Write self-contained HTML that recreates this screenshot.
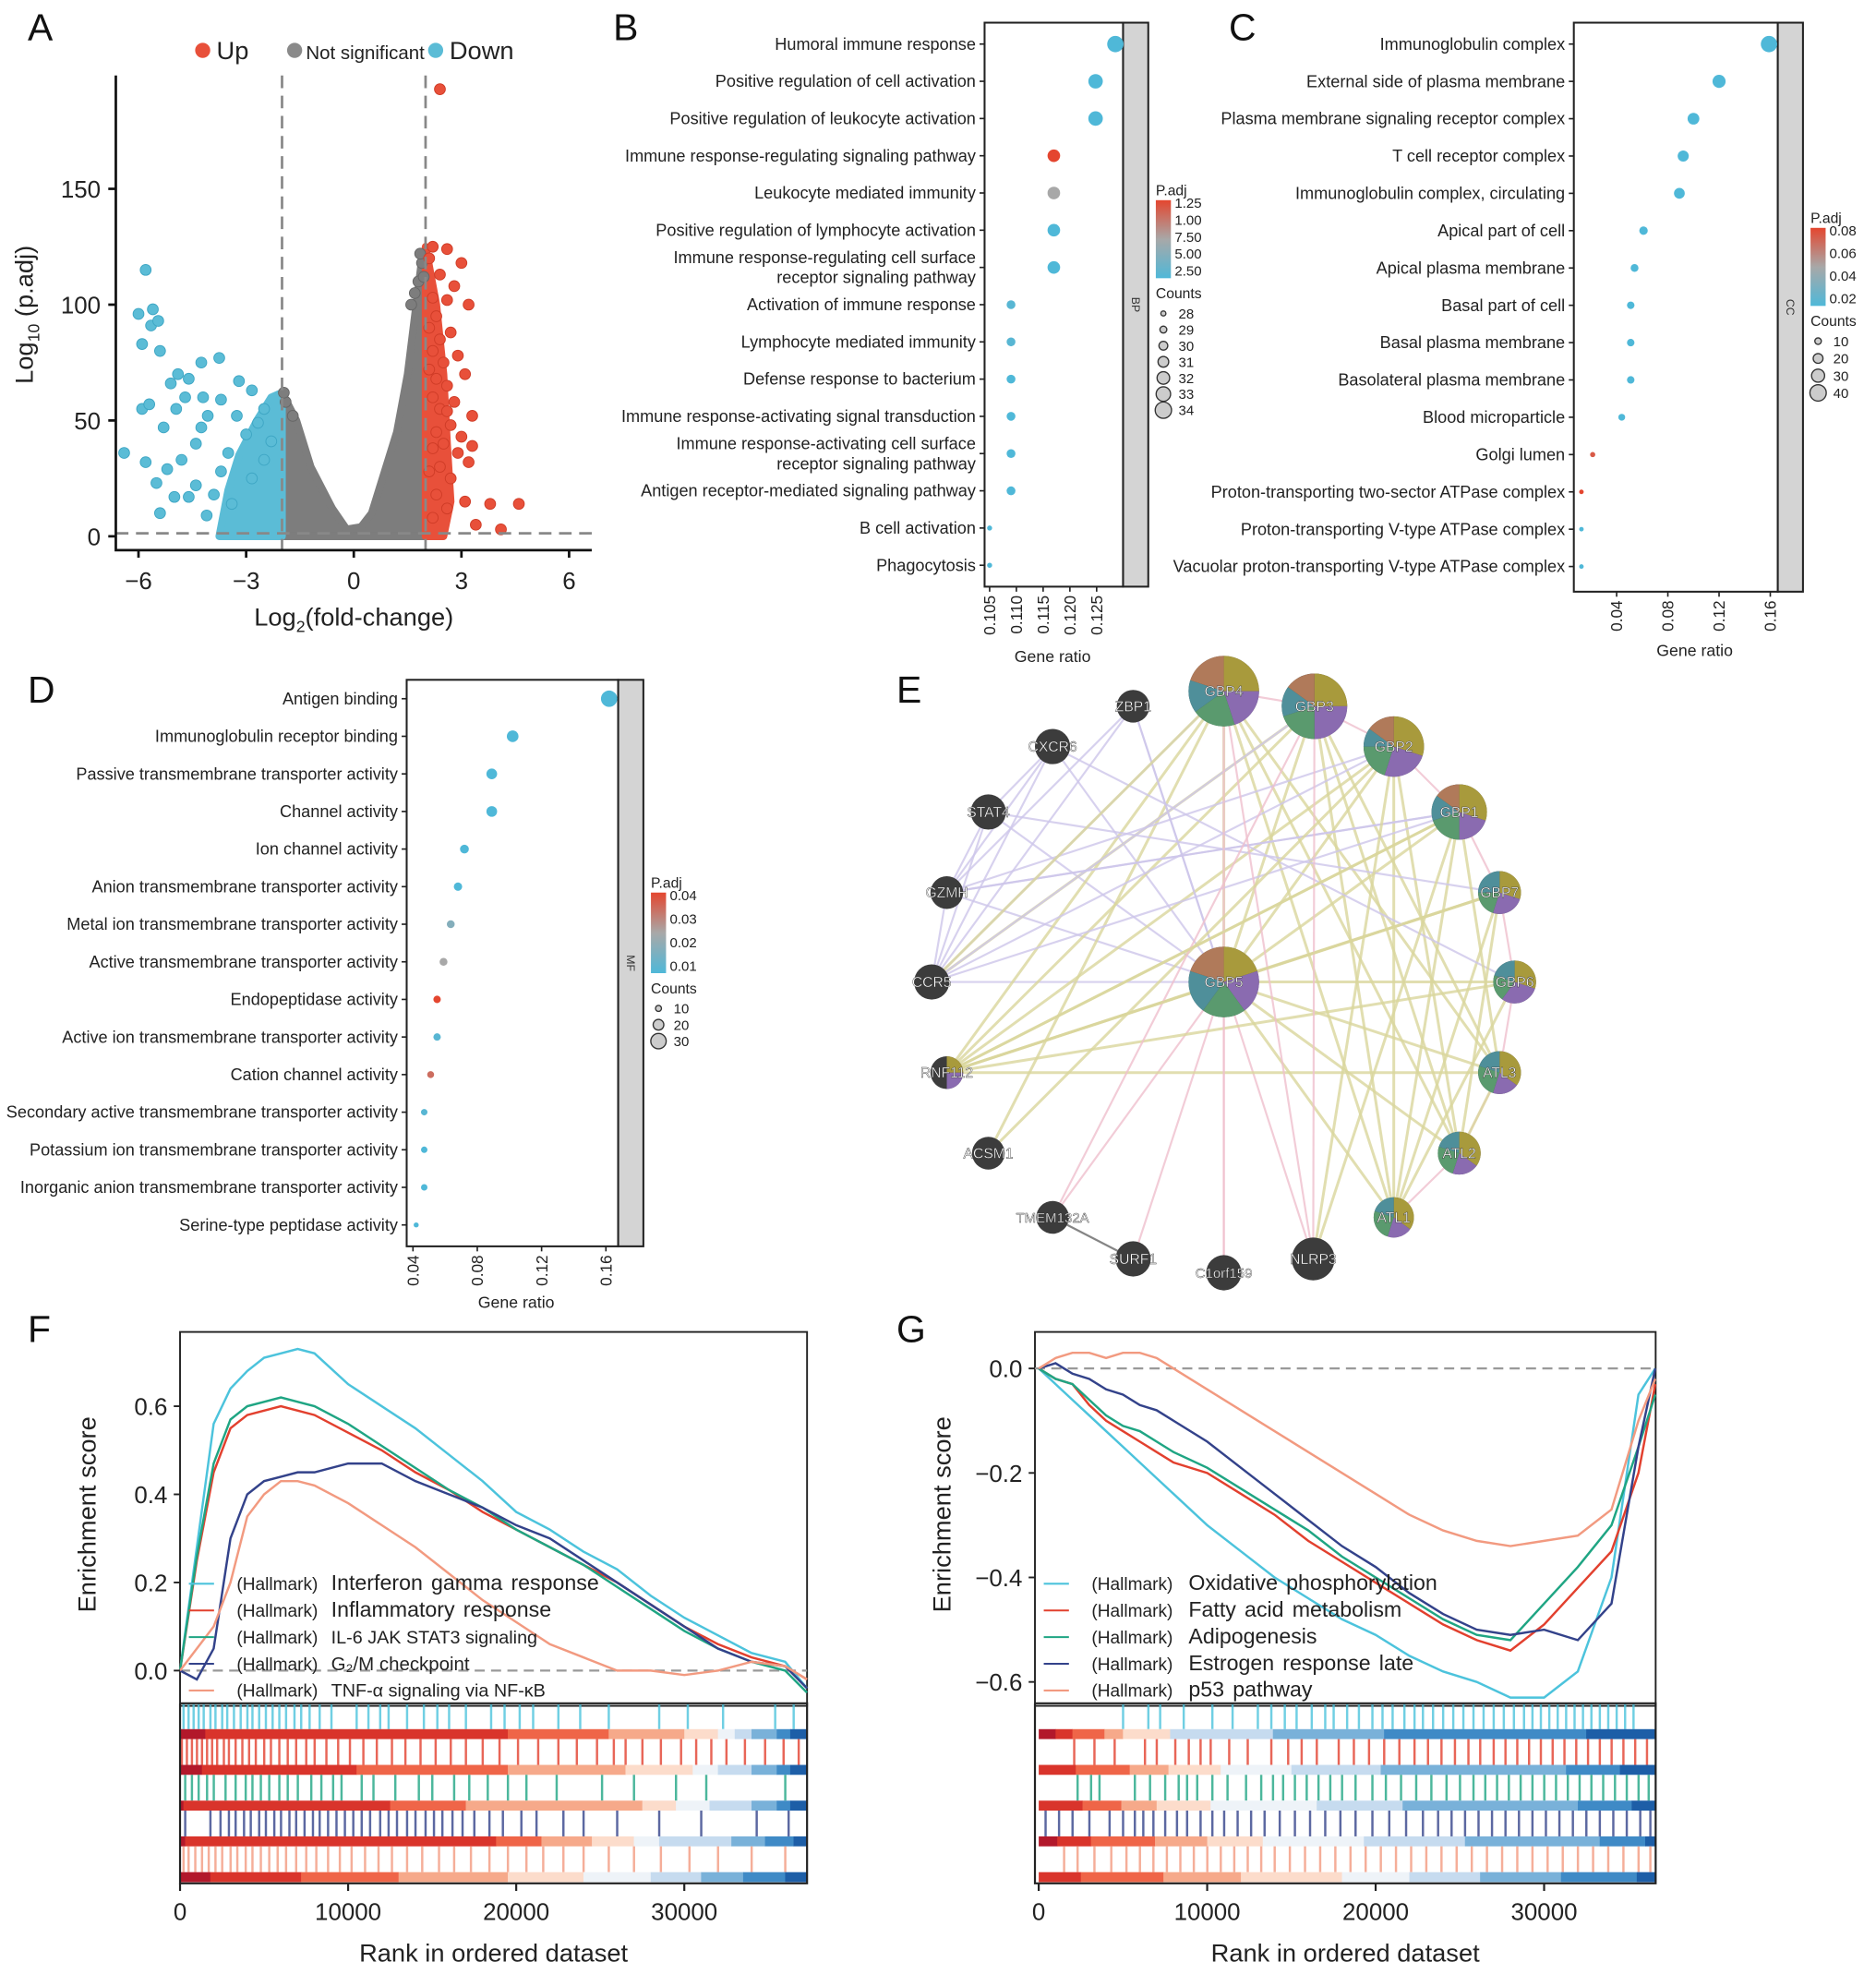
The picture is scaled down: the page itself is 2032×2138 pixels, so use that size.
<!DOCTYPE html>
<html><head><meta charset="utf-8"><style>
html,body{margin:0;padding:0;background:#fff}
svg{display:block;font-family:"Liberation Sans",Arial,sans-serif}
</style></head><body>
<svg id="fig" width="2032" height="2138" viewBox="0 0 1490 1568" preserveAspectRatio="none" xmlns="http://www.w3.org/2000/svg">
<g id="pA"></g>
<g id="pB"></g>
<g id="pC"></g>
<g id="pD"></g>
<g id="pE"></g>
<g id="pF"></g>
<g id="pG"></g>
</svg>
<script>
// ---------- DATA ----------
const volRedX=[2.4,2.2,2.6,2.1,3.0,2.4,2.8,2.2,2.6,3.2,2.3,2.1,2.7,2.4,2.2,2.9,2.5,2.1,3.1,2.3,2.6,2.2,2.8,2.4,3.3,2.6,2.7,2.3,3.0,2.5,2.2,2.9,3.3,3.2,2.4,2.1,2.7,4.6,3.1,2.3,2.6,3.8,2.2,3.4,4.1];
const volRedY=[193,125,124,120,118,113,108,103,102,100,95,90,88,85,80,78,75,72,70,68,65,60,58,55,52,54,48,45,43,40,38,36,39,32,30,28,25,14,15,18,12,14,8,5,3];
const volBlueX=[-5.8,-6.0,-5.6,-5.65,-5.45,-5.9,-5.4,-4.9,-4.25,-3.75,-4.6,-6.4,-5.9,-5.3,-5.8,-5.5,-5.4,-5.0,-4.8,-4.4,-3.9,-4.25,-3.7,-3.26,-2.84,-3.2,-2.5,-4.95,-4.7,-4.07,-3.5,-3.0,-2.67,-5.1,-4.2,-4.6,-4.1,-3.4,-3.7,-2.84,-2.5,-2.3,-5.2,-5.7,-4.4];
const volBlueY=[115,96,98,91,93,83,80,70,75,77,68,36,55,47,32,23,10,17,33,22,18,47,59,52,63,67,55,55,60,52,36,44,49,66,60,17,9,14,28,25,33,41,29,57,40];
const volGreyX=[1.6,1.8,1.9,1.7,1.85,-1.9,-1.7,-1.95,1.95];
const volGreyY=[100,110,118,105,122,58,52,62,112];
const greyEnvX=[-2,-2,-1.6,-1.2,-0.6,-0.2,0.2,0.5,0.8,1.2,1.5,1.7,1.9,2,2];
const greyEnvY=[0,62,50,30,12,3,4,10,25,45,70,95,120,122,0];
const blueEnvX=[-3.75,-3.5,-3.2,-2.7,-2.3,-2,-2];
const blueEnvY=[0,20,35,50,60,62,0];
const redEnvX=[2,2,2.3,2.5,2.6,2.7,2.5];
const redEnvY=[0,125,100,70,40,15,0];
const volXTicks=[-6,-3,0,3,6];
const volYTicks=[0,50,100,150];

const bpTerms=["Humoral immune response","Positive regulation of cell activation","Positive regulation of leukocyte activation","Immune response-regulating signaling pathway","Leukocyte mediated immunity","Positive regulation of lymphocyte activation","Immune response-regulating cell surface|receptor signaling pathway","Activation of immune response","Lymphocyte mediated immunity","Defense response to bacterium","Immune response-activating signal transduction","Immune response-activating cell surface|receptor signaling pathway","Antigen receptor-mediated signaling pathway","B cell activation","Phagocytosis"];
const bpRatio=[0.1285,0.1248,0.1248,0.117,0.117,0.117,0.117,0.109,0.109,0.109,0.109,0.109,0.109,0.105,0.105];
const bpPadj=[0,0,0,1,0.5,0,0,0.05,0.05,0,0,0,0,0,0];
const bpCount=[34,33,33,32,32,32,32,30,30,30,30,30,30,28,28];
const bpTicks=[0.105,0.110,0.115,0.120,0.125];
const bpTickLab=["0.105","0.110","0.115","0.120","0.125"];

const ccTerms=["Immunoglobulin complex","External side of plasma membrane","Plasma membrane signaling receptor complex","T cell receptor complex","Immunoglobulin complex, circulating","Apical part of cell","Apical plasma membrane","Basal part of cell","Basal plasma membrane","Basolateral plasma membrane","Blood microparticle","Golgi lumen","Proton-transporting two-sector ATPase complex","Proton-transporting V-type ATPase complex","Vacuolar proton-transporting V-type ATPase complex"];
const ccRatio=[0.159,0.12,0.1,0.092,0.089,0.061,0.054,0.051,0.051,0.051,0.044,0.0213,0.0125,0.0125,0.0125];
const ccPadj=[0,0,0,0,0,0,0,0,0,0,0,0.9,1,0,0];
const ccCount=[40,30,26,24,23,16,14,13,13,13,11,6,4,4,4];
const ccTicks=[0.04,0.08,0.12,0.16];

const mfTerms=["Antigen binding","Immunoglobulin receptor binding","Passive transmembrane transporter activity","Channel activity","Ion channel activity","Anion transmembrane transporter activity","Metal ion transmembrane transporter activity","Active transmembrane transporter activity","Endopeptidase activity","Active ion transmembrane transporter activity","Cation channel activity","Secondary active transmembrane transporter activity","Potassium ion transmembrane transporter activity","Inorganic anion transmembrane transporter activity","Serine-type peptidase activity"];
const mfRatio=[0.162,0.102,0.089,0.089,0.072,0.068,0.0635,0.059,0.055,0.055,0.051,0.047,0.047,0.047,0.042];
const mfPadj=[0,0,0,0,0,0,0.3,0.5,1,0.05,0.8,0.05,0,0,0];
const mfCount=[32,22,20,20,16,15,14,14,13,13,12,11,11,11,8];
const mfTicks=[0.04,0.08,0.12,0.16];

const netNames=["GBP4","GBP3","GBP2","GBP1","GBP7","GBP6","ATL3","ATL2","ATL1","NLRP3","C1orf159","SURF1","TMEM132A","ACSM1","RNF112","CCR5","GZMH","STAT4","CXCR6","ZBP1","GBP5"];
const netX=[972,1044,1107,1159,1191,1203,1191,1159,1107,1043,972,900,836,785,752,740,752,785,836,900,972];
const netY=[549,561,593,645,709,780,852,916,967,1000,1011,1000,967,916,852,780,709,645,593,561,780];
const netR=[28,26,24,22,17,17,17,17,16,17,14,14,13,13,13,14,13,14,14,13,28];
const netPie=[[.25,.2,.2,.15,.2],[.25,.25,.2,.15,.15],[.3,.25,.2,.1,.15],[.3,.2,.2,.15,.15],[.3,.25,.2,.25,0],[.3,.3,.2,.2,0],[.35,.2,.25,.2,0],[.35,.2,.25,.2,0],[.35,.2,.25,.2,0],[0,0,0,0,0],[0,0,0,0,0],[0,0,0,0,0],[0,0,0,0,0],[0,0,0,0,0],[.25,.25,0,0,0],[0,0,0,0,0],[0,0,0,0,0],[0,0,0,0,0],[0,0,0,0,0],[0,0,0,0,0],[.2,.2,.2,.2,.2]];
const edgeFrom=[20,20,20,20,20,20,20,20,20,20,20,20,20,20,20,20,20,20,20,0,0,0,0,0,1,1,1,1,1,2,2,2,2,3,3,3,3,4,4,5,6,0,1,2,3,4,5,6,7,18,18,17,17,16,16,19,19,18,17,16,15,15,19,18,0,1,2,3,12,0,3,4,2,1,0,5,6,14,14];
const edgeTo=[0,1,2,3,4,5,6,7,8,14,9,10,11,12,18,17,19,15,16,8,7,6,14,13,8,7,6,14,15,7,8,14,15,14,8,16,15,14,8,14,14,1,2,3,4,5,6,7,8,15,16,15,16,15,3,15,16,17,4,2,0,1,20,5,9,9,9,9,11,10,6,7,13,12,15,8,7,3,4];
const edgeType=[0,0,0,0,0,0,0,0,0,0,1,1,1,1,2,2,2,2,2,0,0,0,0,0,0,0,0,0,0,0,0,0,2,0,0,2,2,0,0,0,0,1,1,1,1,1,1,1,1,2,2,2,2,2,2,2,2,2,2,2,2,2,2,2,1,1,0,0,3,1,0,0,0,1,0,0,0,0,0];

const rankK=[0,1,2,3,4,5,6,7,8,10,12,14,16,18,20,22,24,26,28,30,32,34,36,37.3];
const gRankK=[0,1,2,3,4,5,6,7,8,10,12,14,16,18,20,22,24,26,28,30,32,34,35.6,36.6];
const fCyan=[0,0.28,0.56,0.64,0.68,0.71,0.72,0.73,0.72,0.65,0.6,0.55,0.49,0.43,0.36,0.32,0.27,0.23,0.17,0.12,0.08,0.04,0.02,-0.04];
const fRed=[0,0.25,0.45,0.55,0.58,0.59,0.6,0.59,0.58,0.54,0.5,0.45,0.41,0.36,0.32,0.28,0.24,0.2,0.15,0.1,0.06,0.03,0.01,-0.02];
const fGreen=[0,0.26,0.47,0.57,0.6,0.61,0.62,0.61,0.6,0.56,0.51,0.46,0.41,0.37,0.32,0.28,0.24,0.19,0.14,0.09,0.05,0.02,0.0,-0.05];
const fNavy=[0,-0.02,0.05,0.3,0.4,0.43,0.44,0.45,0.45,0.47,0.47,0.43,0.4,0.37,0.33,0.3,0.25,0.2,0.15,0.1,0.05,0.02,0.01,-0.04];
const fSalmon=[0,0.05,0.1,0.2,0.35,0.4,0.43,0.43,0.42,0.38,0.33,0.28,0.22,0.16,0.11,0.06,0.03,0.0,0.0,-0.01,0.0,0.02,0.01,-0.02];
const gCyan=[0,-0.03,-0.06,-0.09,-0.12,-0.15,-0.18,-0.21,-0.24,-0.3,-0.35,-0.4,-0.44,-0.48,-0.51,-0.55,-0.58,-0.6,-0.63,-0.63,-0.58,-0.4,-0.05,0.0];
const gRed=[0,-0.02,-0.03,-0.07,-0.1,-0.12,-0.14,-0.16,-0.18,-0.2,-0.24,-0.28,-0.33,-0.37,-0.41,-0.45,-0.49,-0.52,-0.54,-0.49,-0.42,-0.35,-0.2,-0.03];
const gGreen=[0,-0.02,-0.03,-0.06,-0.09,-0.11,-0.12,-0.14,-0.16,-0.19,-0.23,-0.27,-0.31,-0.36,-0.4,-0.44,-0.48,-0.51,-0.52,-0.45,-0.38,-0.3,-0.15,-0.05];
const gNavy=[0,0.01,-0.01,-0.02,-0.04,-0.05,-0.07,-0.08,-0.1,-0.14,-0.19,-0.24,-0.29,-0.34,-0.38,-0.43,-0.47,-0.5,-0.51,-0.5,-0.52,-0.45,-0.15,0.0];
const gSalmon=[0,0.02,0.03,0.03,0.02,0.03,0.03,0.02,0.0,-0.04,-0.08,-0.12,-0.16,-0.2,-0.24,-0.28,-0.31,-0.33,-0.34,-0.33,-0.32,-0.27,-0.1,-0.02];
const fLabels=["Interferon  gamma  response","Inflammatory  response","IL-6 JAK STAT3 signaling","G\u2082/M checkpoint","TNF-\u03b1 signaling via NF-\u03baB"];
const gLabels=["Oxidative phosphorylation","Fatty acid metabolism","Adipogenesis","Estrogen  response  late","p53 pathway"];
const fTick1=[0.2,0.5,0.8,1.1,1.4,1.8,2.1,2.5,2.8,3.2,3.6,4.0,4.3,4.7,5.1,5.5,5.9,6.3,6.8,7.2,7.7,8.3,9.0,10.5,11.2,11.9,12.4,13.5,14.5,15.3,16.0,17.0,18.5,19.3,20.2,21.0,22.5,23.8,25.5,28.5,30.2,32.3,35.4,36.5];
const fTick2=[0.1,0.4,0.7,1.0,1.3,1.6,1.9,2.2,2.6,2.9,3.3,3.7,4.1,4.5,5.0,5.4,5.9,6.4,6.9,7.5,8.0,8.7,9.4,10.1,10.9,11.7,12.6,13.4,14.3,15.2,16.1,17.0,18.0,19.0,20.1,21.3,22.5,23.6,24.8,25.8,26.5,27.5,28.6,29.8,30.7,31.6,32.5,33.6,34.8,35.9,36.8];
const fTick3=[0.3,0.7,1.1,1.6,2.0,2.7,3.3,3.9,4.3,4.8,5.3,5.9,6.4,7.0,7.8,8.4,9.1,9.6,10.8,11.5,12.8,14.2,15.0,16.3,17.2,18.3,19.5,20.6,22.4,25.1,27.0,29.5,31.3,36.0];
const fTick4=[0.3,1.8,2.4,2.9,3.3,3.8,4.2,4.7,5.1,5.6,6.0,6.5,6.9,7.4,7.9,8.3,8.8,9.3,9.8,10.3,10.8,11.3,11.9,12.4,12.9,13.5,14.0,14.6,15.1,15.6,16.2,16.8,17.5,18.4,19.2,20.3,21.2,22.8,24.0,26.0,28.5,31.0,34.3,36.2];
const fTick5=[0.2,0.5,0.9,1.3,1.7,2.1,2.5,3.0,3.4,3.9,4.3,4.8,5.3,5.8,6.3,6.9,7.5,8.1,8.8,9.5,10.2,11.0,11.8,12.6,13.5,14.4,15.4,16.3,17.3,18.4,19.5,20.6,21.6,22.8,24.0,25.5,27.0,28.6,30.3,32.0,34.0,36.0];
const gTick1=[5.0,6.5,7.2,8.6,10.3,11.5,13.0,13.8,14.6,15.3,16.2,17.0,17.5,18.3,19.0,19.8,20.4,21.0,21.7,22.3,22.8,23.4,24.0,24.6,25.2,25.8,26.4,27.0,27.6,28.2,28.8,29.3,29.8,30.3,30.8,31.3,31.8,32.3,32.8,33.3,33.8,34.3,34.8,35.3];
const gTick2=[2.1,3.3,4.5,6.3,7.0,8.1,8.9,9.6,10.2,11.3,12.4,13.8,14.8,15.6,16.5,17.8,18.7,19.6,20.5,21.4,22.3,23.1,23.9,24.7,25.5,26.2,27.0,27.7,28.4,29.1,29.8,30.5,31.2,31.9,32.6,33.3,34.0,34.7,35.4,36.1];
const gTick3=[2.3,3.1,3.6,5.7,6.6,7.5,8.3,8.8,9.4,10.3,11.2,12.3,13.2,13.9,14.5,15.2,15.9,16.6,17.3,18.0,18.8,19.8,20.6,21.5,22.4,23.3,24.2,25.0,25.8,26.5,27.2,27.9,28.6,29.3,30.0,30.7,31.4,32.1,32.8,33.5,34.2,34.9,35.6,36.2];
const gTick4=[0.4,1.2,2.0,3.0,4.2,5.0,5.7,6.2,6.8,7.5,8.2,8.8,9.6,10.3,11.0,11.8,12.6,13.4,14.3,15.2,16.1,17.0,17.9,18.8,19.8,20.8,21.8,22.8,23.7,24.5,25.3,26.1,26.9,27.7,28.5,29.3,30.1,30.9,31.7,32.5,33.3,34.1,34.9,35.7,36.3];
const gTick5=[1.5,2.3,3.3,4.3,5.2,6.0,6.8,7.6,8.4,9.2,10.0,10.8,11.6,12.4,13.2,14.0,14.9,15.8,16.7,17.6,18.5,19.4,20.3,21.2,22.1,23.0,23.9,24.8,25.7,26.6,27.5,28.4,29.3,30.2,31.1,32.0,32.9,33.8,34.7,35.6,36.3];
const fBand1=[1.5,19.5,25.5,30,32,33,34,35.5,36.3,37.3];
const fBand2=[1.3,10.5,19.5,26.5,30.5,32,34,35.5,36.3,37.3];
const fBand3=[0.2,12.5,17.0,27.5,29.5,31.5,34,35.5,36.3,37.3];
const fBand4=[0.3,18.8,21.5,24.5,27,28.5,32.8,34.8,36.5,37.3];
const fBand5=[1.8,7.2,13.0,19.5,24.0,28.0,31.0,33.5,36.0,37.3];
const gBand1=[1.0,2.0,3.9,5.0,7.8,7.8,13.9,20.5,32.5,36.6];
const gBand2=[0,2.2,5.4,7.7,10.8,15.0,20.3,31.3,34.5,36.6];
const gBand3=[0,2.6,4.9,7.0,10.2,16.5,21.6,32.0,35.2,36.6];
const gBand4=[1.1,3.1,6.9,10.0,13.3,19.3,25.3,33.3,36.0,36.6];
const gBand5=[0,2.5,7.4,12,18,22,26.2,31,35.5,36.6];
const gseaXTicks=[0,10000,20000,30000];
const fYTicks=[0,0.2,0.4,0.6];
const gYTicks=[0,-0.2,-0.4,-0.6];

// ---------- HELPERS ----------
const NS="http://www.w3.org/2000/svg";
function mk(tag,attrs,parent,txt){const e=document.createElementNS(NS,tag);for(const k in attrs)e.setAttribute(k,attrs[k]);if(txt!==undefined)e.textContent=txt;parent.appendChild(e);return e;}
function lerpC(a,b,t){const pa=[1,3,5].map(i=>parseInt(a.substr(i,2),16)),pb=[1,3,5].map(i=>parseInt(b.substr(i,2),16));return "rgb("+pa.map((v,i)=>Math.round(v+(pb[i]-v)*t)).join(",")+")";}
function padjColor(p){return p<0.5?lerpC("#4fb8d8","#a8a8a8",p*2):lerpC("#a8a8a8","#e4462f",(p-0.5)*2);}
const TXT="#222";

// ---------- PANEL LETTERS ----------
const fig=document.getElementById('fig');
[["A",22,32],["B",487,32],["C",976,32],["D",22,558],["E",712,558],["F",22,1066],["G",712,1066]].forEach(l=>{
  const t=mk('text',{x:l[1],y:l[2],'font-size':30,fill:'#111'},fig,l[0]);
  
  
});

// ---------- A: VOLCANO ----------
(function(){
  const g=document.getElementById('pA');
  const ax=x=>281+28.5*x, ay=y=>426-1.84*y;
  function env(xs,ys,col,name){
    const p=mk('polygon',{points:xs.map((x,i)=>ax(x)+','+ay(ys[i])).join(' '),fill:col,stroke:col,'stroke-width':6,'stroke-linejoin':'round'},g);
    
    
  }
  env(greyEnvX,greyEnvY,'#7d7d7d','grey-point-cloud');
  env(blueEnvX,blueEnvY,'#5bbcd6','blue-point-cloud');
  env(redEnvX,redEnvY,'#e8503a','red-point-cloud');
  function pts(xs,ys,col,stroke,name){
    xs.forEach((x,i)=>{
      const c=mk('circle',{cx:ax(x),cy:ay(ys[i]),r:4.3,fill:col,stroke:stroke,'stroke-width':0.7},g);
      
      
    });
  }
  pts(volGreyX,volGreyY,'#7d7d7d','#666','grey-point');
  pts(volBlueX,volBlueY,'#5bbcd6','#3ea6c4','down-point');
  pts(volRedX,volRedY,'#e8503a','#cf3c27','up-point');
  [-2,2].forEach(v=>{const l=mk('line',{x1:ax(v),x2:ax(v),y1:60,y2:437,stroke:'#888','stroke-width':2,'stroke-dasharray':'10,6'},g);
    
    });
  const h=mk('line',{x1:92,x2:470,y1:ay(1.3),y2:ay(1.3),stroke:'#888','stroke-width':2,'stroke-dasharray':'10,6'},g);
  
  
  const axl=mk('path',{d:'M92,60 V437 H470',fill:'none',stroke:'#111','stroke-width':2},g);
  
  
  volXTicks.forEach(v=>{mk('line',{x1:ax(v),x2:ax(v),y1:437,y2:443,stroke:'#111','stroke-width':2},g);
    const t=mk('text',{x:ax(v),y:468,'font-size':19,'text-anchor':'middle',fill:TXT},g,v<0?'\u2212'+(-v):String(v));
    
    });
  volYTicks.forEach(v=>{mk('line',{x1:86,x2:92,y1:ay(v),y2:ay(v),stroke:'#111','stroke-width':2},g);
    const t=mk('text',{x:80,y:ay(v)+7,'font-size':19,'text-anchor':'end',fill:TXT},g,String(v));
    
    });
  const xt=mk('text',{x:281,y:497,'font-size':20,'text-anchor':'middle',fill:TXT},g);
  xt.innerHTML='Log<tspan font-size="13" dy="5">2</tspan><tspan dy="-5">(fold-change)</tspan>';
  
  
  const yt=mk('text',{transform:'translate(26,250) rotate(-90)','font-size':20,'text-anchor':'middle',fill:TXT},g);
  yt.innerHTML='Log<tspan font-size="13" dy="5">10</tspan><tspan dy="-5"> (p.adj)</tspan>';
  
  
  [[161,'#e8503a','Up',20,172],[234,'#8a8a8a','Not significant',15,243],[346,'#5bbcd6','Down',20,357]].forEach(L=>{
    const c=mk('circle',{cx:L[0],cy:40,r:6,fill:L[1]},g);
    
    
    const t=mk('text',{x:L[4],y:47,'font-size':L[3],fill:TXT},g,L[2]);
    
    
  });
})();

// ---------- DOT PLOTS ----------
function dotPlot(g,cfg){
  const xs=v=>cfg.x0+(v-cfg.v0)*cfg.k;
  const step=(cfg.rowEnd-cfg.rowStart)/(cfg.terms.length-1);
  const box=mk('rect',{x:cfg.bx1,y:cfg.by1,width:cfg.bx2-cfg.bx1,height:cfg.by2-cfg.by1,fill:'none',stroke:'#222','stroke-width':1.5},g);
  
  
  const s=mk('rect',{x:cfg.bx2,y:cfg.by1,width:20,height:cfg.by2-cfg.by1,fill:'#d4d4d4',stroke:'#222','stroke-width':1.5},g);
  
  
  const st=mk('text',{transform:`translate(${cfg.bx2+7},${(cfg.by1+cfg.by2)/2}) rotate(90)`,'font-size':9,'text-anchor':'middle',fill:'#333'},g,cfg.strip);
  
  
  cfg.terms.forEach((term,i)=>{
    const y=cfg.rowStart+i*step;
    mk('line',{x1:cfg.bx1-4,x2:cfg.bx1,y1:y,y2:y,stroke:'#222','stroke-width':1.2},g);
    const parts=term.split('|');
    parts.forEach((p,j)=>{
      const t=mk('text',{x:cfg.bx1-7,y:y+4.5+(parts.length>1?(j?8:-8):0),'font-size':13.3,'text-anchor':'end',fill:TXT},g,p);
      
      
    });
    const r=cfg.rMin+(cfg.count[i]-cfg.cMin)/(cfg.cMax-cfg.cMin)*(cfg.rMax-cfg.rMin);
    const c=mk('circle',{cx:xs(cfg.ratio[i]),cy:y,r:r,fill:padjColor(cfg.padj[i])},g);
    
    
  });
  cfg.ticks.forEach((v,i)=>{
    const x=xs(v);
    mk('line',{x1:x,x2:x,y1:cfg.by2,y2:cfg.by2+4,stroke:'#222','stroke-width':1.2},g);
    const t=mk('text',{transform:`translate(${x+4.5},${cfg.by2+7}) rotate(-90)`,'font-size':12.6,'text-anchor':'end',fill:TXT},g,cfg.tickLab[i]);
    
    
  });
  const xt=mk('text',{x:cfg.titleX,y:cfg.titleY,'font-size':13,'text-anchor':'middle',fill:TXT},g,'Gene ratio');
  
  
  const L=cfg.leg;
  const pt=mk('text',{x:L.x,y:L.y,'font-size':11.5,fill:TXT},g,'P.adj');
  
  
  const gid='grad'+cfg.strip;
  const defs=mk('defs',{},g);
  const lg=mk('linearGradient',{id:gid,x1:0,y1:0,x2:0,y2:1},defs);
  mk('stop',{offset:'0','stop-color':'#e4462f'},lg);mk('stop',{offset:'0.5','stop-color':'#a8a8a8'},lg);mk('stop',{offset:'1','stop-color':'#4fb8d8'},lg);
  const bar=mk('rect',{x:L.x,y:L.y+4,width:12,height:L.barH,fill:`url(#${gid})`},g);
  
  
  L.padjLab.forEach((s2,i)=>{
    const t=mk('text',{x:L.x+15,y:L.y+10+i*(L.barH-8)/(L.padjLab.length-1),'font-size':11,fill:TXT},g,s2);
    
    
  });
  const cy0=L.y+L.barH+20;
  const ct=mk('text',{x:L.x,y:cy0,'font-size':11.5,fill:TXT},g,'Counts');
  
  
  L.counts.forEach((cv,i)=>{
    const y=cy0+12+i*L.cStep;
    const r=cfg.rMin+(cv-cfg.cMin)/(cfg.cMax-cfg.cMin)*(cfg.rMax-cfg.rMin);
    const c=mk('circle',{cx:L.x+6,cy:y,r:Math.max(r,1.5),fill:'#ccc',stroke:'#333','stroke-width':1},g);
    
    
    const t=mk('text',{x:L.x+18,y:y+4,'font-size':11,fill:TXT},g,String(cv));
    
    
  });
}
dotPlot(document.getElementById('pB'),{terms:bpTerms,ratio:bpRatio,padj:bpPadj,count:bpCount,ticks:bpTicks,tickLab:bpTickLab,
  x0:786,v0:0.105,k:4250,bx1:782,bx2:892,by1:18,by2:466,rowStart:35,rowEnd:449,strip:'BP',cMin:28,cMax:34,rMin:2,rMax:6.5,titleX:836,titleY:526,
  leg:{x:918,y:155,barH:62,padjLab:['1.25','1.00','7.50','5.00','2.50'],counts:[28,29,30,31,32,33,34],cStep:12.8}});
dotPlot(document.getElementById('pC'),{terms:ccTerms,ratio:ccRatio,padj:ccPadj,count:ccCount,ticks:ccTicks,tickLab:['0.04','0.08','0.12','0.16'],
  x0:1284,v0:0.04,k:1017,bx1:1250,bx2:1412,by1:18,by2:470,rowStart:35,rowEnd:450,strip:'CC',cMin:4,cMax:40,rMin:1.8,rMax:6.5,titleX:1346,titleY:521,
  leg:{x:1438,y:177,barH:62,padjLab:['0.08','0.06','0.04','0.02'],counts:[10,20,30,40],cStep:13.7}});
dotPlot(document.getElementById('pD'),{terms:mfTerms,ratio:mfRatio,padj:mfPadj,count:mfCount,ticks:mfTicks,tickLab:['0.04','0.08','0.12','0.16'],
  x0:328,v0:0.04,k:1277,bx1:323,bx2:491,by1:540,by2:990,rowStart:555,rowEnd:973,strip:'MF',cMin:8,cMax:32,rMin:2,rMax:6.5,titleX:410,titleY:1039,
  leg:{x:517,y:705,barH:64,padjLab:['0.04','0.03','0.02','0.01'],counts:[10,20,30],cStep:13}});

// ---------- E: NETWORK ----------
(function(){
  const g=document.getElementById('pE');
  const ecol=['#d9d69c','#efbfcd','#cdc5ea','#666'];
  edgeFrom.forEach((f,i)=>{
    const t=edgeTo[i];
    const l=mk('line',{x1:netX[f],y1:netY[f],x2:netX[t],y2:netY[t],stroke:ecol[edgeType[i]],'stroke-width':edgeType[i]==0?2.2:1.6,'stroke-opacity':0.8},g);
    
    
  });
  const pcol=['#a89a3c','#8a6bb0','#5a9a6e','#4f8f9a','#b07a5a'];
  netNames.forEach((n,i)=>{
    const x=netX[i],y=netY[i],r=netR[i];
    const c=mk('circle',{cx:x,cy:y,r:r,fill:'#3c3c3c'},g);
    
    
    let a=-Math.PI/2;
    netPie[i].forEach((fr,j)=>{
      if(fr<=0)return;
      const a2=a+fr*2*Math.PI;
      const d=`M${x},${y} L${x+r*Math.cos(a)},${y+r*Math.sin(a)} A${r},${r} 0 ${fr>0.5?1:0} 1 ${x+r*Math.cos(a2)},${y+r*Math.sin(a2)} Z`;
      const p=mk('path',{d:d,fill:pcol[j]},g);
      
      
      a=a2;
    });
    const t=mk('text',{x:x,y:y+4,'font-size':n.length>6?11:11.5,'text-anchor':'middle',fill:'#fff',stroke:'#333','stroke-width':0.3},g,n);
    
    
  });
})();

// ---------- GSEA ----------
function gsea(g,cfg){
  const xs=k=>cfg.x0+k*cfg.kx, ys=v=>cfg.y0-v*cfg.ky;
  const colors=['#4cc3dc','#e2402e','#1fa583','#33428a','#f29a80'];
  const frame=mk('rect',{x:cfg.bx1,y:1058,width:cfg.bx2-cfg.bx1,height:297,fill:'none',stroke:'#222','stroke-width':1.4},g);
  
  
  const z=mk('line',{x1:cfg.bx1,x2:cfg.bx2,y1:ys(0),y2:ys(0),stroke:'#999','stroke-width':1.6,'stroke-dasharray':'8,5'},g);
  
  
  cfg.series.forEach((s,si)=>{
    const p=mk('polyline',{points:cfg.ranks.map((k,i)=>xs(k)+','+ys(s[i])).join(' '),fill:'none',stroke:colors[si],'stroke-width':1.8},g);
    
    
  });
  cfg.yTicks.forEach(v=>{
    mk('line',{x1:cfg.bx1-5,x2:cfg.bx1,y1:ys(v),y2:ys(v),stroke:'#222','stroke-width':1.4},g);
    const t=mk('text',{x:cfg.bx1-10,y:ys(v)+7,'font-size':19,'text-anchor':'end',fill:TXT},g,v===0?'0.0':(v<0?'\u2212'+(-v).toFixed(1):v.toFixed(1)));
    
    
  });
  const yt=mk('text',{transform:`translate(${cfg.bx1-67},1203) rotate(-90)`,'font-size':20,'text-anchor':'middle',fill:TXT},g,'Enrichment score');
  
  
  cfg.labels.forEach((lab,i)=>{
    const y=cfg.legY+i*21.2;
    mk('line',{x1:cfg.bx1+7,x2:cfg.bx1+27,y1:y-5,y2:y-5,stroke:colors[i],'stroke-width':1.5},g);
    const t1=mk('text',{x:cfg.bx1+45,y:y,'font-size':14,fill:TXT},g,'(Hallmark)');
    
    
    const fs=cfg.sizes[i];
    const t2=mk('text',{x:cfg.bx1+cfg.nameOff,y:y,'font-size':fs,'word-spacing':fs>=17?2:0,fill:TXT},g,lab);
    
    
  });
  const pal=['#b2182b','#d9342b','#ef6548','#f6a98a','#fcdccb','#eef3f8','#c6dbef','#79b1d9','#3f8ac6','#1d5ea7'];
  const top=1353, per=28.4;
  for(let r=0;r<5;r++){
    const y=top+r*per;
    cfg.ticks[r].forEach(k=>{
      const l=mk('rect',{x:xs(k)-0.8,y:y,width:1.8,height:20.5,fill:colors[r],'fill-opacity':0.8},g);
      
      
    });
    let prev=0;
    cfg.bands[r].forEach((e,j)=>{
      if(e>prev){
        const b=mk('rect',{x:xs(prev),y:y+20.5,width:xs(e)-xs(prev)+0.3,height:7.9,fill:pal[j]},g);
        
        
      }
      prev=Math.max(prev,e);
    });
  }
  const hf=mk('path',{d:`M${cfg.bx1},${top} V1496 H${cfg.bx2} V${top} H${cfg.bx1}`,fill:'none',stroke:'#222','stroke-width':1.6},g);
  
  
  gseaXTicks.forEach(v=>{
    const x=xs(v/1000);
    mk('line',{x1:x,x2:x,y1:1496,y2:1502,stroke:'#222','stroke-width':1.6},g);
    const t=mk('text',{x:x,y:1525,'font-size':19,'text-anchor':'middle',fill:TXT},g,String(v));
    
    
  });
  const xt=mk('text',{x:(cfg.bx1+cfg.bx2)/2,y:1558,'font-size':20,'text-anchor':'middle',fill:TXT},g,'Rank in ordered dataset');
  
  
}
gsea(document.getElementById('pF'),{ranks:rankK,x0:143,kx:13.35,y0:1327,ky:350,bx1:143,bx2:641,series:[fCyan,fRed,fGreen,fNavy,fSalmon],yTicks:fYTicks,labels:fLabels,legY:1263,nameOff:120,sizes:[17,17,14.5,15,14.5],
  ticks:[fTick1,fTick2,fTick3,fTick4,fTick5],bands:[fBand1,fBand2,fBand3,fBand4,fBand5]});
gsea(document.getElementById('pG'),{ranks:gRankK,x0:825,kx:13.38,y0:1087,ky:415,bx1:822,bx2:1315,series:[gCyan,gRed,gGreen,gNavy,gSalmon],yTicks:gYTicks,labels:gLabels,legY:1263,nameOff:122,sizes:[17,17,17,17,17],
  ticks:[gTick1,gTick2,gTick3,gTick4,gTick5],bands:[gBand1,gBand2,gBand3,gBand4,gBand5]});
</script>
</body></html>
